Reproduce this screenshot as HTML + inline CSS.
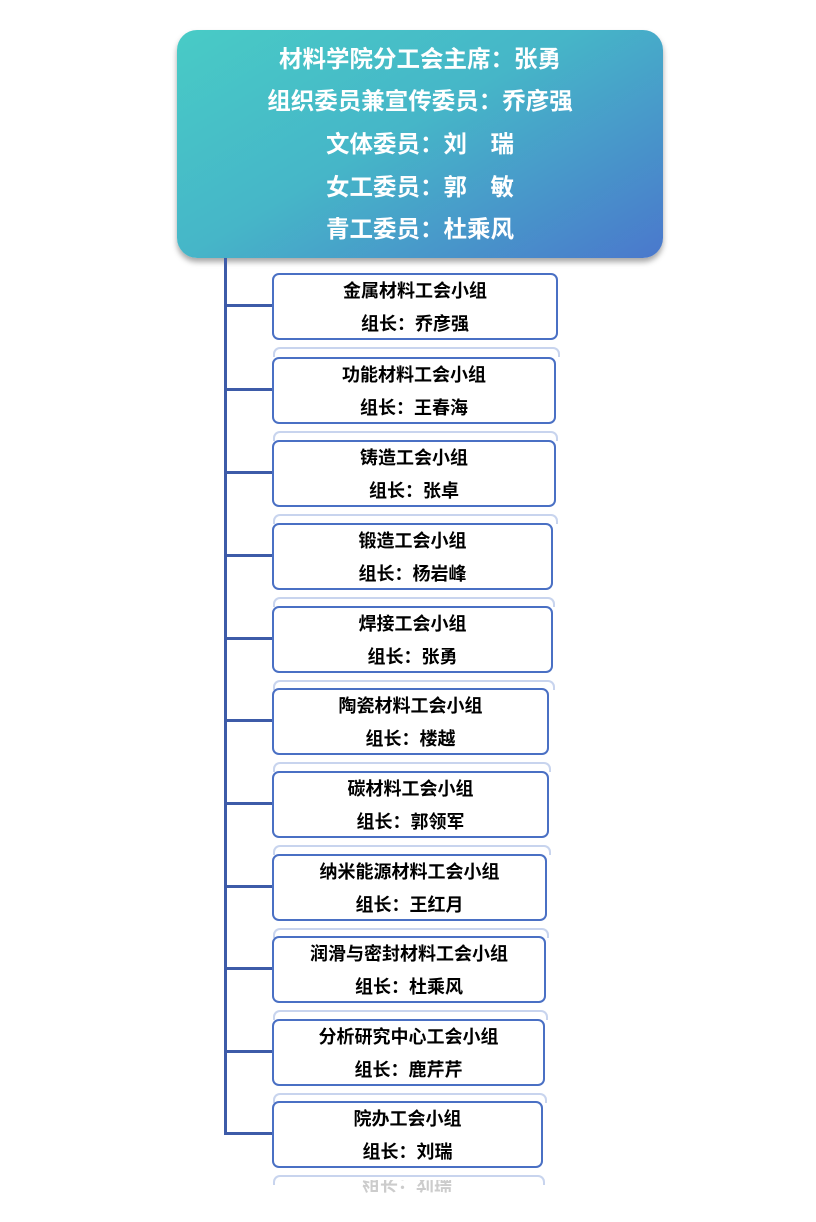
<!DOCTYPE html>
<html><head><meta charset="utf-8"><style>
body{margin:0;width:816px;height:1222px;background:#fff;position:relative;overflow:hidden;font-family:"Liberation Sans","Noto Sans CJK SC",sans-serif;}
.hdr{position:absolute;left:177px;top:30px;width:486px;height:228px;border-radius:20px;background:linear-gradient(150deg,#48cbc6 0%,#46b6c8 45%,#4a78cc 100%);box-shadow:0 4px 6px rgba(0,0,0,.35);color:#fff;font-weight:bold;font-size:23.5px;text-align:center;}
.hdr div{position:absolute;left:0;right:0;line-height:30px;}
.v{position:absolute;left:224px;top:258px;width:3px;height:877px;background:#3d5ba8;}
.h{position:absolute;left:224px;width:50px;height:3px;background:#3d5ba8;}
.b{position:absolute;left:272px;height:63px;border:2px solid #4a70c4;border-radius:7px;background:#fff;text-align:center;font-weight:bold;font-size:18px;color:#000;}
.b div{line-height:33px;}
.r{position:absolute;left:273px;height:8px;border:2px solid #c8d4ee;border-bottom:none;border-radius:7px 7px 0 0;}
</style></head><body>
<div class="hdr">
<div style="top:14px">材料学院分工会主席：张勇</div>
<div style="top:56px">组织委员兼宣传委员：乔彦强</div>
<div style="top:99px">文体委员：刘　瑞</div>
<div style="top:142px">女工委员：郭　敏</div>
<div style="top:184px">青工委员：杜乘风</div>
</div>
<div class="v"></div>
<div class="h" style="top:304px"></div><div class="r" style="top:347px;width:283px"></div><div class="b" style="top:273px;width:282px"><div>金属材料工会小组</div><div>组长：乔彦强</div></div>
<div class="h" style="top:388px"></div><div class="r" style="top:431px;width:281px"></div><div class="b" style="top:357px;width:280px"><div>功能材料工会小组</div><div>组长：王春海</div></div>
<div class="h" style="top:471px"></div><div class="r" style="top:514px;width:281px"></div><div class="b" style="top:440px;width:280px"><div>铸造工会小组</div><div>组长：张卓</div></div>
<div class="h" style="top:554px"></div><div class="r" style="top:597px;width:278px"></div><div class="b" style="top:523px;width:277px"><div>锻造工会小组</div><div>组长：杨岩峰</div></div>
<div class="h" style="top:637px"></div><div class="r" style="top:680px;width:278px"></div><div class="b" style="top:606px;width:277px"><div>焊接工会小组</div><div>组长：张勇</div></div>
<div class="h" style="top:719px"></div><div class="r" style="top:762px;width:274px"></div><div class="b" style="top:688px;width:273px"><div>陶瓷材料工会小组</div><div>组长：楼越</div></div>
<div class="h" style="top:802px"></div><div class="r" style="top:845px;width:274px"></div><div class="b" style="top:771px;width:273px"><div>碳材料工会小组</div><div>组长：郭领军</div></div>
<div class="h" style="top:885px"></div><div class="r" style="top:928px;width:272px"></div><div class="b" style="top:854px;width:271px"><div>纳米能源材料工会小组</div><div>组长：王红月</div></div>
<div class="h" style="top:967px"></div><div class="r" style="top:1010px;width:271px"></div><div class="b" style="top:936px;width:270px"><div>润滑与密封材料工会小组</div><div>组长：杜乘风</div></div>
<div class="h" style="top:1050px"></div><div class="r" style="top:1093px;width:270px"></div><div class="b" style="top:1019px;width:269px"><div>分析研究中心工会小组</div><div>组长：鹿芹芹</div></div>
<div class="h" style="top:1132px"></div><div class="r" style="top:1175px;width:268px"></div><div class="b" style="top:1101px;width:267px"><div>院办工会小组</div><div>组长：刘瑞</div></div>
<div style="position:absolute;left:362px;top:1180px;font-weight:bold;font-size:18px;color:#ccc;transform:scaleY(-1);height:18px;overflow:hidden;line-height:30px">组长：刘瑞</div>
</body></html>
